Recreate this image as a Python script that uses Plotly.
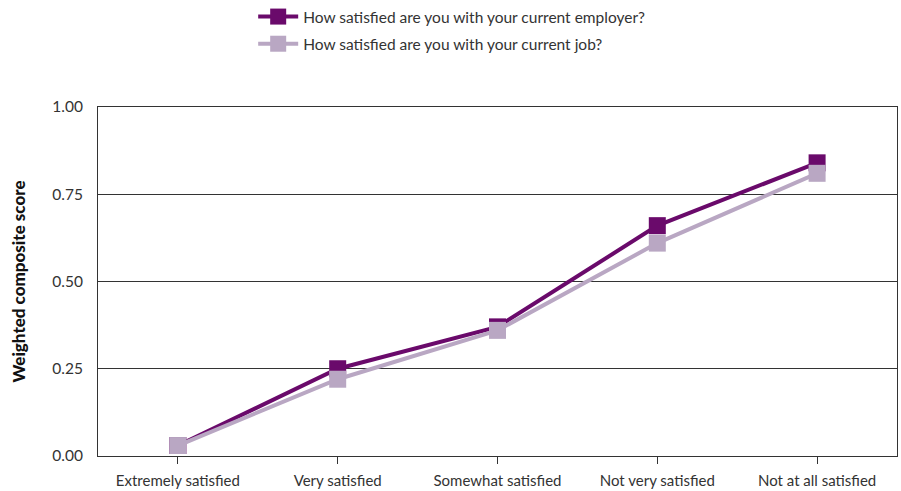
import plotly.graph_objects as go

categories = ["Extremely satisfied", "Very satisfied", "Somewhat satisfied",
              "Not very satisfied", "Not at all satisfied"]
employer_scores = [0.03, 0.25, 0.37, 0.66, 0.84]
job_scores = [0.03, 0.22, 0.36, 0.61, 0.81]
y_ticks = [0.0, 0.25, 0.5, 0.75, 1.0]
y_tick_labels = ["0.00", "0.25", "0.50", "0.75", "1.00"]

DARK = "#6A0A6B"
LIGHT = "#B9A7C3"
FONT = "Lato"
TEXT = "#333333"

fig = go.Figure()
fig.add_trace(go.Scatter(
    x=categories, y=employer_scores, mode="lines+markers",
    name="How satisfied are you with your current employer?",
    legendgroup="employer",
    line=dict(color=DARK, width=4),
    marker=dict(symbol="square", size=17, color=DARK),
))
fig.add_trace(go.Scatter(
    x=categories, y=job_scores, mode="lines+markers",
    name="How satisfied are you with your current job?",
    legendgroup="job",
    line=dict(color=LIGHT, width=4),
    marker=dict(symbol="square", size=17, color=LIGHT),
))

# Rotated axis title placed in the left margin
fig.add_annotation(
    text="Weighted composite score",
    xref="paper", yref="paper", x=-0.1, y=0.5,
    xanchor="center", yanchor="middle", textangle=-90, showarrow=False,
    font=dict(family=FONT, size=17, color="#111111", weight=900),
)

fig.update_layout(
    width=901, height=491,
    margin=dict(l=98, r=4, t=107, b=35, autoexpand=False),
    paper_bgcolor="white", plot_bgcolor="white",
    font=dict(family=FONT, size=15, color=TEXT),
    showlegend=True,
    legend=dict(
        x=0.281, y=1.005, xref="container", yref="container",
        xanchor="left", yanchor="top",
        font=dict(family=FONT, size=15.5, color=TEXT),
        tracegroupgap=4, itemwidth=40,
    ),
    xaxis=dict(
        type="category", range=[-0.5, 4.5], tickangle=0,
        showgrid=False, showline=True, linecolor=TEXT, linewidth=1,
        mirror=True, ticks="outside", ticklen=7, tickcolor=TEXT,
        ticklabelstandoff=4,
        tickfont=dict(family=FONT, size=15, color=TEXT),
        zeroline=False, automargin=False,
    ),
    yaxis=dict(
        range=[0, 1.0], tickvals=y_ticks, ticktext=y_tick_labels,
        showgrid=True, gridcolor=TEXT, gridwidth=1,
        showline=True, linecolor=TEXT, linewidth=1, mirror=True,
        ticks="", ticklabelstandoff=11, zeroline=False, automargin=False,
        tickfont=dict(family=FONT, size=15.5, color=TEXT),
    ),
)

fig.write_html("out.html")
